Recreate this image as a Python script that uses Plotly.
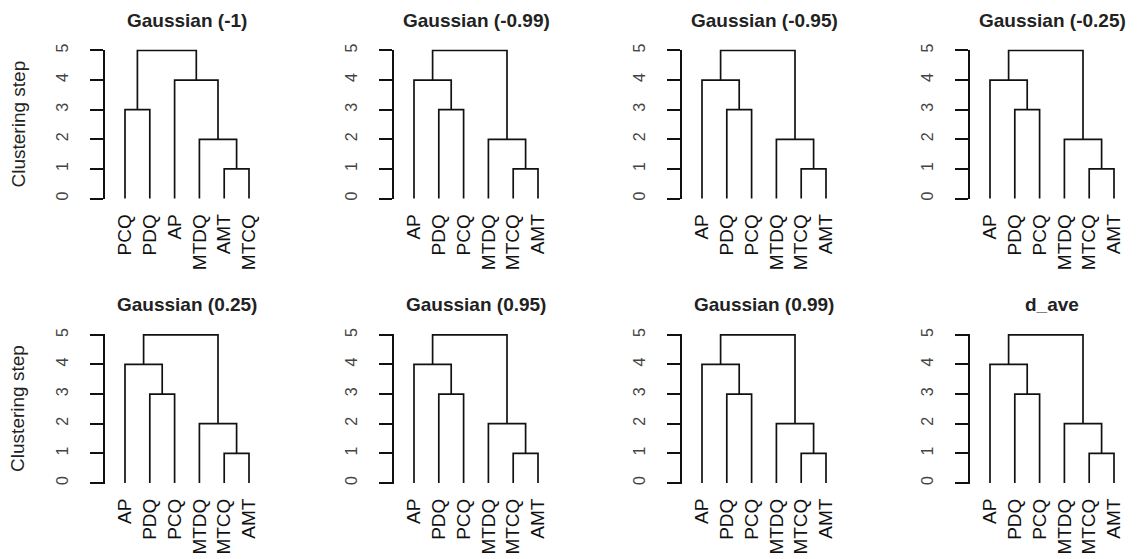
import plotly.graph_objects as go

W, H = 1137, 559

titles = ["Gaussian (-1)", "Gaussian (-0.99)", "Gaussian (-0.95)", "Gaussian (-0.25)",
          "Gaussian (0.25)", "Gaussian (0.95)", "Gaussian (0.99)", "d_ave"]

labels_p1 = ["PCQ", "PDQ", "AP", "MTDQ", "AMT", "MTCQ"]
labels_rest = ["AP", "PDQ", "PCQ", "MTDQ", "MTCQ", "AMT"]
# hclust-style merges: negative = leaf (1-based position in display order), positive = earlier step
merges_p1 = [(-5, -6), (-4, 1), (-1, -2), (-3, 2), (3, 4)]
merges_rest = [(-5, -6), (-4, 1), (-2, -3), (-1, 3), (4, 2)]
heights = [1, 2, 3, 4, 5]

panel_labels = [labels_p1] + [labels_rest] * 7
panel_merges = [merges_p1] + [merges_rest] * 7

y_ticks = [0, 1, 2, 3, 4, 5]

# layout geometry (pixels)
leaf1_px = [125, 414, 702, 990]
leaf_span = 124.0
row_y0 = [195, 483]
unit_px = 30.0
font = "Liberation Sans, Arial, sans-serif"

fig = go.Figure()
layout = dict(width=W, height=H, margin=dict(l=0, r=0, t=0, b=0),
              paper_bgcolor="white", plot_bgcolor="white", showlegend=False,
              font=dict(family=font, color="black", size=19))
annotations = []

for p in range(8):
    r, c = divmod(p, 4)
    labs = panel_labels[p]
    merges = panel_merges[p]
    n = len(labs)
    pos = {}
    hts = {}
    xs, ys = [], []
    for k, (a, b) in enumerate(merges, start=1):
        def get(m):
            if m < 0:
                return float(-m), 0.0
            return pos[m], hts[m]
        xa, ha = get(a)
        xb, hb = get(b)
        h = heights[k - 1]
        xs += [xa, xa, xb, xb, None]
        ys += [ha, h, h, hb, None]
        pos[k] = (xa + xb) / 2
        hts[k] = h
    ax = "" if p == 0 else str(p + 1)
    fig.add_trace(go.Scatter(x=xs, y=ys, mode="lines", xaxis="x" + ax, yaxis="y" + ax,
                             line=dict(color="#111", width=1.7), hoverinfo="skip"))
    s = leaf_span / (n - 1)
    l1 = leaf1_px[c]
    axis_px = l1 - 20
    right_px = l1 + leaf_span + 20
    x0 = 1 - 20 / s
    x1 = n + 20 / s
    yr = [-0.03, 5.03]
    y0px = row_y0[r]
    bot_px = y0px + 0.03 * unit_px
    top_px = y0px - 5.03 * unit_px
    layout["xaxis" + ax] = dict(domain=[axis_px / W, right_px / W], range=[x0, x1],
                                anchor="y" + ax, tickvals=list(range(1, n + 1)), ticktext=labs,
                                tickangle=-90, ticks="", showline=False, showgrid=False,
                                zeroline=False, ticklabelstandoff=10,
                                tickfont=dict(size=19, color="#111", family=font))
    layout["yaxis" + ax] = dict(domain=[1 - bot_px / H, 1 - top_px / H], range=yr,
                                anchor="x" + ax, tickvals=y_ticks, tickangle=-90,
                                ticks="outside", ticklen=13, tickwidth=1.7, tickcolor="#111",
                                showline=True, linewidth=1.7, linecolor="#111",
                                showgrid=False, zeroline=False, ticklabelstandoff=16,
                                tickfont=dict(size=16, color="#444", family=font))
    annotations.append(dict(text="<b>" + titles[p] + "</b>", xref="paper", yref="paper",
                            x=(l1 + leaf_span / 2) / W, y=1 - (14.5 + r * 288) / H,
                            showarrow=False, xanchor="center", yanchor="middle",
                            font=dict(size=19, family=font, color="#222")))
    if c == 0:
        annotations.append(dict(text="Clustering step", xref="paper", yref="paper",
                                x=18 / W, y=1 - (y0px - 2.5 * unit_px) / H, textangle=-90,
                                showarrow=False, xanchor="center", yanchor="middle",
                                font=dict(size=19, family=font, color="#222")))

layout["annotations"] = annotations
fig.update_layout(**layout)
fig.write_html("out.html")
